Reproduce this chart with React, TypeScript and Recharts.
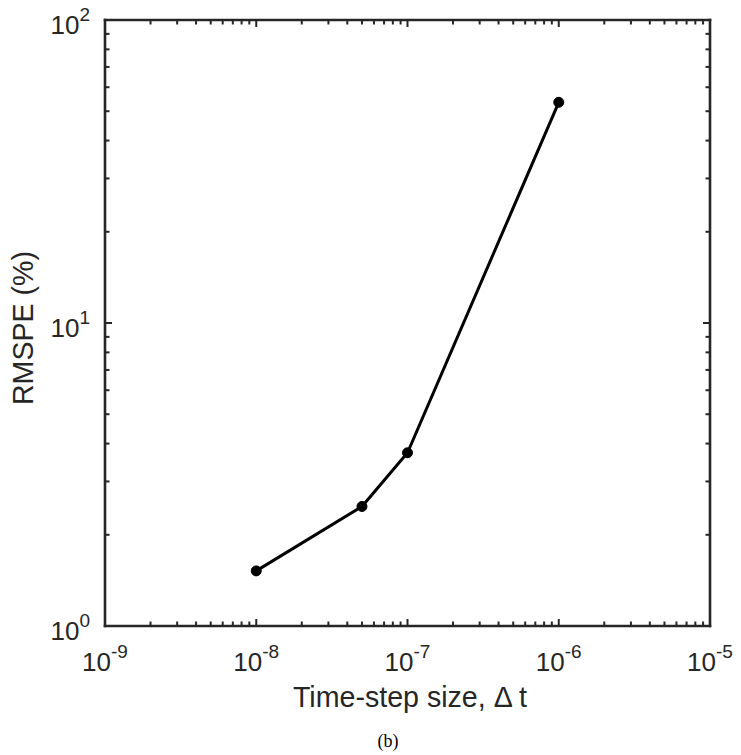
import { LineChart, Line, XAxis, YAxis } from 'recharts'

const timeSteps = [1e-8, 5e-8, 1e-7, 1e-6]
const rmspeValues = [1.52, 2.48, 3.73, 53.5]

const xDecades = [1e-9, 1e-8, 1e-7, 1e-6, 1e-5]
const xExponents = ['-9', '-8', '-7', '-6', '-5']
const yDecades = [1, 10, 100]
const yExponents = ['0', '1', '2']
const minorFactors = [2, 3, 4, 5, 6, 7, 8, 9]

const data = timeSteps.map((dt, i) => ({ dt, rmspe: rmspeValues[i] }))

const withMinors = (decades: number[]) => {
  const out: number[] = [...decades]
  decades.slice(0, -1).forEach((d) => minorFactors.forEach((f) => out.push(d * f)))
  return out.sort((a, b) => a - b)
}
const xTicks = withMinors(xDecades)
const yTicks = withMinors(yDecades)

const AX = '#262626'
const FONT = '"Liberation Sans", Arial, sans-serif'

const expOf = (v: number, decades: number[], labels: string[]) => {
  const i = decades.findIndex((d) => Math.abs(v / d - 1) < 1e-6)
  return i >= 0 ? labels[i] : null
}

function BottomTick(props: any) {
  const { x, y, payload } = props
  const e = expOf(payload.value, xDecades, xExponents)
  const len = e !== null ? 7 : 4.5
  return (
    <g>
      <line x1={x} y1={y} x2={x} y2={y - len} stroke={AX} strokeWidth={2} />
      {e !== null && (
        <text x={x} y={y + 45} textAnchor="middle" fontSize={26} fill={AX} fontFamily={FONT}>
          10
          <tspan dy={-13} fontSize={19}>{e}</tspan>
        </text>
      )}
    </g>
  )
}

function TopTick(props: any) {
  const { x, y, payload } = props
  const len = expOf(payload.value, xDecades, xExponents) !== null ? 7 : 4.5
  return <line x1={x} y1={y} x2={x} y2={y + len} stroke={AX} strokeWidth={2} />
}

function LeftTick(props: any) {
  const { x, y, payload } = props
  const e = expOf(payload.value, yDecades, yExponents)
  const len = e !== null ? 7 : 4.5
  return (
    <g>
      <line x1={x} y1={y} x2={x + len} y2={y} stroke={AX} strokeWidth={2} />
      {e !== null && (
        <text x={x - 15} y={y + 14} textAnchor="end" fontSize={26} fill={AX} fontFamily={FONT}>
          10
          <tspan dy={-13} fontSize={19}>{e}</tspan>
        </text>
      )}
    </g>
  )
}

function RightTick(props: any) {
  const { x, y, payload } = props
  const len = expOf(payload.value, yDecades, yExponents) !== null ? 7 : 4.5
  return <line x1={x} y1={y} x2={x - len} y2={y} stroke={AX} strokeWidth={2} />
}

export default function App() {
  const axisLine = { stroke: AX, strokeWidth: 2.6, strokeLinecap: 'square' as const }
  return (
    <div style={{ position: 'absolute', left: 0, top: 0, width: 741, height: 755, background: '#fff' }}>
      <LineChart width={741} height={755} data={data} margin={{ top: 19, left: 104, right: 30, bottom: 128 }}>
        <XAxis
          dataKey="dt"
          type="number"
          scale="log"
          domain={[1e-9, 1e-5]}
          allowDataOverflow
          ticks={xTicks}
          interval={0}
          tickSize={0}
          tickMargin={0}
          tickLine={false}
          tick={<BottomTick />}
          axisLine={axisLine}
          height={1}
        />
        <XAxis
          xAxisId="top"
          orientation="top"
          dataKey="dt"
          type="number"
          scale="log"
          domain={[1e-9, 1e-5]}
          allowDataOverflow
          ticks={xTicks}
          interval={0}
          tickSize={0}
          tickMargin={0}
          tickLine={false}
          tick={<TopTick />}
          axisLine={axisLine}
          height={1}
        />
        <YAxis
          type="number"
          scale="log"
          domain={[1, 100]}
          allowDataOverflow
          ticks={yTicks}
          interval={0}
          tickSize={0}
          tickMargin={0}
          tickLine={false}
          tick={<LeftTick />}
          axisLine={axisLine}
          width={1}
        />
        <YAxis
          yAxisId="right"
          orientation="right"
          type="number"
          scale="log"
          domain={[1, 100]}
          allowDataOverflow
          ticks={yTicks}
          interval={0}
          tickSize={0}
          tickMargin={0}
          tickLine={false}
          tick={<RightTick />}
          axisLine={axisLine}
          width={1}
        />
        <Line
          type="linear"
          dataKey="rmspe"
          stroke="#000"
          strokeWidth={3}
          dot={{ r: 5, fill: '#000', stroke: '#000', strokeWidth: 1 }}
          isAnimationActive={false}
        />
      </LineChart>
      <svg width={741} height={755} style={{ position: 'absolute', left: 0, top: 0, pointerEvents: 'none' }}>
        <text x={410} y={707} textAnchor="middle" fontSize={28.6} fill={AX} fontFamily={FONT}>
          Time-step size, Δ t
        </text>
        <text
          x={33}
          y={328}
          transform="rotate(-90, 33, 328)"
          textAnchor="middle"
          fontSize={28.6}
          fill={AX}
          fontFamily={FONT}
        >
          RMSPE (%)
        </text>
        <text x={388} y={747} textAnchor="middle" fontSize={18} fill="#000" fontFamily='"Liberation Serif", serif'>
          (b)
        </text>
      </svg>
    </div>
  )
}
